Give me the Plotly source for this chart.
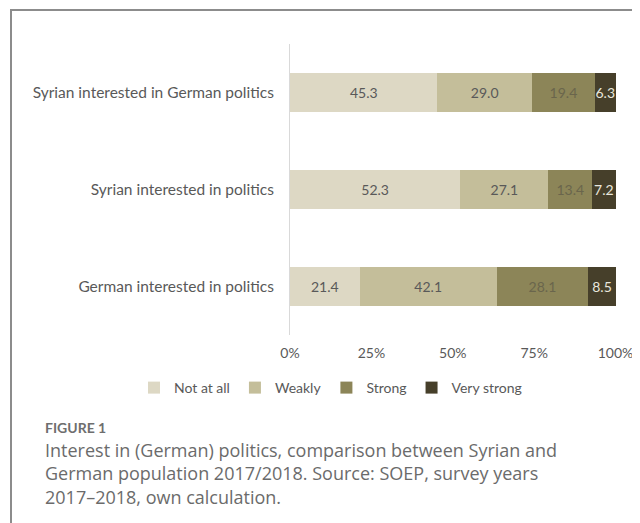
import plotly.graph_objects as go

categories = [
    "Syrian interested in German politics",
    "Syrian interested in politics",
    "German interested in politics",
]
series_names = ["Not at all", "Weakly", "Strong", "Very strong"]
not_at_all = [45.3, 52.3, 21.4]
weakly = [29.0, 27.1, 42.1]
strong = [19.4, 13.4, 28.1]
very_strong = [6.3, 7.2, 8.5]
tick_values = [0, 25, 50, 75, 100]
tick_labels = ["0%", "25%", "50%", "75%", "100%"]

caption_head = "FIGURE 1"
caption_lines = [
    "Interest in (German) politics, comparison between Syrian and",
    "German population 2017/2018. Source: SOEP, survey years",
    "2017–2018, own calculation.",
]

colors = ["#DDD8C4", "#C4BE9A", "#8C8558", "#463F2A"]
text_colors = ["#595959", "#595959", "#6a654c", "#e8e6dc"]
values = [not_at_all, weakly, strong, very_strong]

# The page body has an 8px default margin; the figure is sized so that it
# ends at the window edge and coordinates below are given in page pixels.
OFF = 8
W, H = 640 - OFF, 523 - OFF
PL, PR, PT, PB = 290, 616, 44, 335          # plot area in page pixels
L, R, T, B = PL - OFF, W - (PR - OFF), PT - OFF, H - (PB - OFF)
pw, ph = PR - PL, PB - PT


def px(x):
    return (x - PL) / pw


def py(y):
    return (PB - y) / ph


chart_font = "Lato"

fig = go.Figure()
for name, vals, c, tc in zip(series_names, values, colors, text_colors):
    fig.add_trace(go.Bar(
        y=categories, x=vals, name=name, orientation="h",
        marker=dict(color=c, line=dict(width=0)),
        text=[f"{v:.1f}" for v in vals],
        textposition="inside", insidetextanchor="middle", textangle=0,
        constraintext="none", cliponaxis=False,
        textfont=dict(color=tc, size=14, family=chart_font),
        hoverinfo="x+name",
    ))

shapes = [
    dict(type="line", xref="paper", yref="paper", x0=px(11), x1=px(11),
         y0=py(9), y1=py(540), line=dict(color="#8c8c8c", width=2)),
    dict(type="line", xref="paper", yref="paper", x0=px(10), x1=px(660),
         y0=py(10), y1=py(10), line=dict(color="#8c8c8c", width=2)),
]

annotations = [
    dict(text=caption_head, xref="paper", yref="paper", x=px(43), y=py(427),
         xanchor="left", yanchor="middle", showarrow=False,
         font=dict(family="Lato", size=14, color="#6e6e6e", weight="bold")),
]
for i, line in enumerate(caption_lines):
    yy = [450, 473, 497][i]
    annotations.append(dict(text=line, xref="paper", yref="paper", x=px(43), y=py(yy),
                            xanchor="left", yanchor="middle", showarrow=False,
                            font=dict(family="Open Sans", size=18, color="#6b6b6b")))

fig.update_layout(
    width=W, height=H,
    margin=dict(l=L, r=R, t=T, b=B, pad=0, autoexpand=False),
    barmode="stack", bargap=0.6,
    plot_bgcolor="white", paper_bgcolor="white",
    font=dict(family=chart_font, size=15, color="#595959"),
    showlegend=True,
    legend=dict(orientation="h", xref="paper", yref="paper",
                x=px(134), xanchor="left", y=py(388), yanchor="middle",
                font=dict(size=14, color="#595959", family=chart_font),
                itemwidth=30, traceorder="normal", itemclick=False),
    xaxis=dict(range=[0, 100.15], tickvals=tick_values, ticktext=tick_labels,
               showgrid=False, zeroline=False, showline=False,
               tickfont=dict(size=14, color="#595959"), ticklabelstandoff=8),
    yaxis=dict(categoryorder="array", categoryarray=categories[::-1],
               showgrid=False, zeroline=False, showline=True, linecolor="#d9d9d9", linewidth=1,
               tickfont=dict(size=15.5, color="#595959"), ticklabelstandoff=12),
    shapes=shapes,
    annotations=annotations,
)

fig.write_html("out.html")
